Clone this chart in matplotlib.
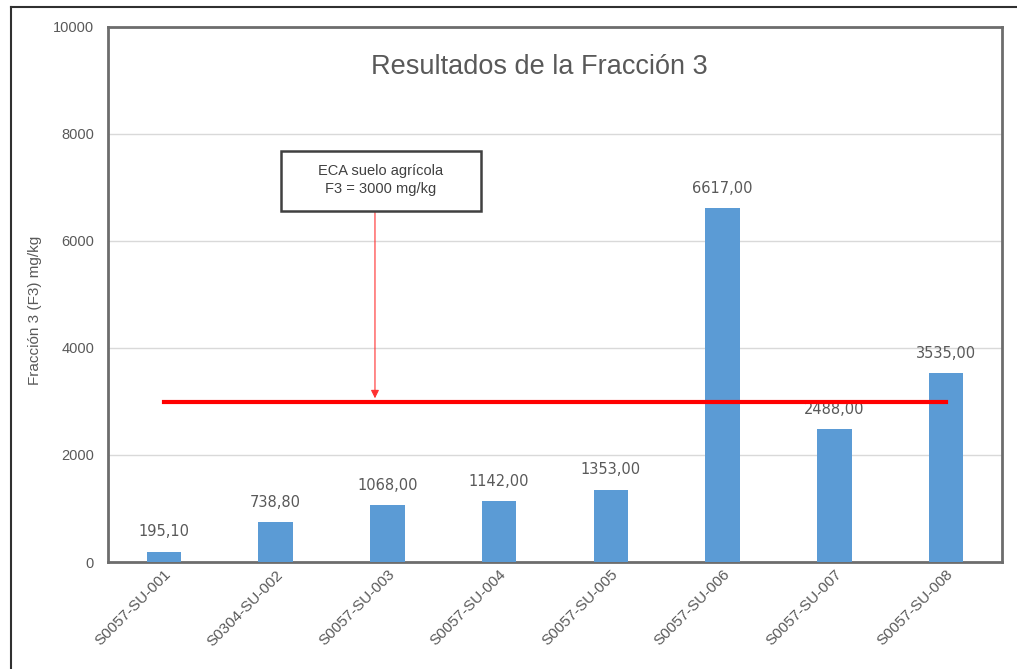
import matplotlib
matplotlib.use("Agg")
import matplotlib.pyplot as plt
from matplotlib.lines import Line2D
from matplotlib.patches import Rectangle

categories = ["S0057-SU-001", "S0304-SU-002", "S0057-SU-003", "S0057-SU-004",
              "S0057-SU-005", "S0057-SU-006", "S0057-SU-007", "S0057-SU-008"]
values = [195.10, 738.80, 1068.00, 1142.00, 1353.00, 6617.00, 2488.00, 3535.00]
limit_value = 3000
y_ticks = [0, 2000, 4000, 6000, 8000, 10000]
title = "Resultados de la Fracción 3"
y_label = "Fracción 3 (F3) mg/kg"
note_text = "ECA suelo agrícola\nF3 = 3000 mg/kg"

plt.rcParams['font.family'] = ['Liberation Sans', 'DejaVu Sans']

W, H = 1017, 669
fig = plt.figure(figsize=(W / 100, H / 100), dpi=100)
ax = fig.add_axes([108 / W, 1 - 562 / H, (1002 - 108) / W, (562 - 27) / H])

x = list(range(len(categories)))
ax.bar(x, values, width=0.31, color="#5b9bd5", zorder=3)
ax.set_xlim(-0.5, len(categories) - 0.5)
ax.set_ylim(0, 10000)
ax.set_yticks(y_ticks)
ax.set_yticklabels([str(t) for t in y_ticks], color="#595959", fontsize=10.5)
ax.set_xticks(x)
ax.set_xticklabels(categories, rotation=45, ha="right", rotation_mode="anchor",
                   color="#595959", fontsize=11)
ax.tick_params(axis="y", length=0, pad=10)
ax.tick_params(axis="x", length=0, pad=4)
ax.yaxis.grid(True, color="#d9d9d9", linewidth=1, zorder=0)
ax.set_axisbelow(True)
for s in ax.spines.values():
    s.set_color("#6d6d6d")
    s.set_linewidth(2)
ax.set_ylabel(y_label, color="#595959", fontsize=11)
ax.yaxis.set_label_coords(-0.074, 0.47)

for xi, v in zip(x, values):
    ax.text(xi, v + 230, f"{v:.2f}".replace(".", ","), ha="center", va="bottom",
            color="#595959", fontsize=10.5, family="DejaVu Sans", zorder=4)

ax.plot([x[0], x[-1]], [limit_value, limit_value], color="#ff0000", linewidth=3, zorder=5)

ax.annotate("", xy=(1.889, limit_value + 60), xytext=(1.889, 6561),
            arrowprops=dict(arrowstyle="-|>", color="#ff3030", lw=0.8,
                            mutation_scale=12, shrinkA=0, shrinkB=0), zorder=6)
ax.add_patch(Rectangle((1.048, 6561), 2.838 - 1.048, 7682 - 6561, facecolor="white",
                       edgecolor="#404040", linewidth=1.8, zorder=7))
ax.text(1.943, 7140, note_text, ha="center", va="center", fontsize=10.5, color="#404040",
        linespacing=1.4, zorder=8)
ax.text(0.483, 0.925, title, transform=ax.transAxes, ha="center", va="center",
        fontsize=19.5, color="#595959")

# outer frame
fig.add_artist(Line2D([11 / W, 1.0], [1 - 7 / H, 1 - 7 / H], color="#303030",
                      linewidth=1.5, transform=fig.transFigure))
fig.add_artist(Line2D([11 / W, 11 / W], [0, 1 - 7 / H], color="#303030",
                      linewidth=1.5, transform=fig.transFigure))

fig.savefig("out.png", dpi=100)
